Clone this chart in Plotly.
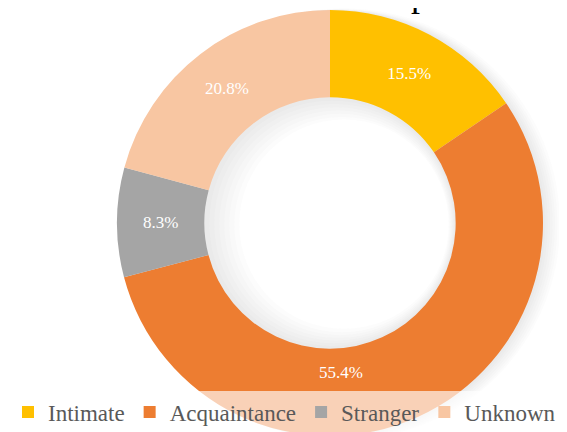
import plotly.graph_objects as go

# Relationship categories and their shares (%)
labels = ["Intimate", "Acquaintance", "Stranger", "Unknown"]
shares = [15.5, 55.4, 8.3, 20.8]
colors = ["#FFC000", "#ED7D31", "#A5A5A5", "#F8C6A2"]

W, H = 567, 432
FONT = "Liberation Serif, Times New Roman, serif"

# donut centre / radius in figure pixels (page adds an 8px body margin)
cx, cy, r = 322, 215, 213
HOLE = 0.59


def dom(x0, y0, rad):
    # pixel centre + radius -> paper domain (kept inside the figure)
    y0 = min(max(y0, rad), H - rad)
    return dict(x=[(x0 - rad) / W, (x0 + rad) / W],
                y=[max(0, (H - y0 - rad) / H), min(1, (H - y0 + rad) / H)])


fig = go.Figure()

# soft shadow rings behind the donut (outside edge and inside the hole)
for k in range(1, 8):
    rad = r + k * 0.4
    inner = r * HOLE - k * 3
    fig.add_trace(go.Pie(
        values=[1], labels=["shadow"], sort=False,
        hole=inner / rad,
        marker=dict(colors=["rgba(90,90,90,0.02)"], line=dict(width=0)),
        textinfo="none", hoverinfo="skip", showlegend=False,
        domain=dom(cx + k * 2, cy + 0.3 * k, rad),
    ))

# the big slice's label was moved by hand in the original, so it is added below
templates = ["%{value:.1f}%", "", "%{value:.1f}%", "%{value:.1f}%"]

fig.add_trace(go.Pie(
    labels=labels,
    values=shares,
    hole=HOLE,
    sort=False,
    direction="clockwise",
    rotation=0,
    marker=dict(colors=colors, line=dict(width=0)),
    texttemplate=templates,
    textposition="inside",
    insidetextorientation="horizontal",
    textfont=dict(family=FONT, size=17, color="white"),
    domain=dom(cx, cy, r),
    hoverinfo="label+percent",
))

fig.add_annotation(
    text=f"{shares[1]:.1f}%", x=333 / W, y=1 - 364 / H, xref="paper", yref="paper",
    xanchor="center", yanchor="middle", showarrow=False,
    font=dict(family=FONT, size=17, color="white"),
)

# bottom of the (cropped) chart title
fig.add_annotation(
    text="p", x=412 / W, y=1 - 8 / H, xref="paper", yref="paper",
    xanchor="center", yanchor="bottom", showarrow=False,
    font=dict(family=FONT, size=36, color="black"),
)

fig.update_layout(
    width=W, height=H,
    margin=dict(l=0, r=0, t=0, b=0, autoexpand=False),
    paper_bgcolor="white",
    plot_bgcolor="white",
    font=dict(family=FONT),
    showlegend=True,
    legend=dict(
        orientation="h",
        x=0, xanchor="left",
        y=(H - 404) / H, yanchor="middle",
        font=dict(family=FONT, size=23, color="#595959"),
        bgcolor="rgba(255,255,255,0.65)",
        itemclick=False,
        traceorder="normal",
    ),
)

fig.write_html("out.html")
